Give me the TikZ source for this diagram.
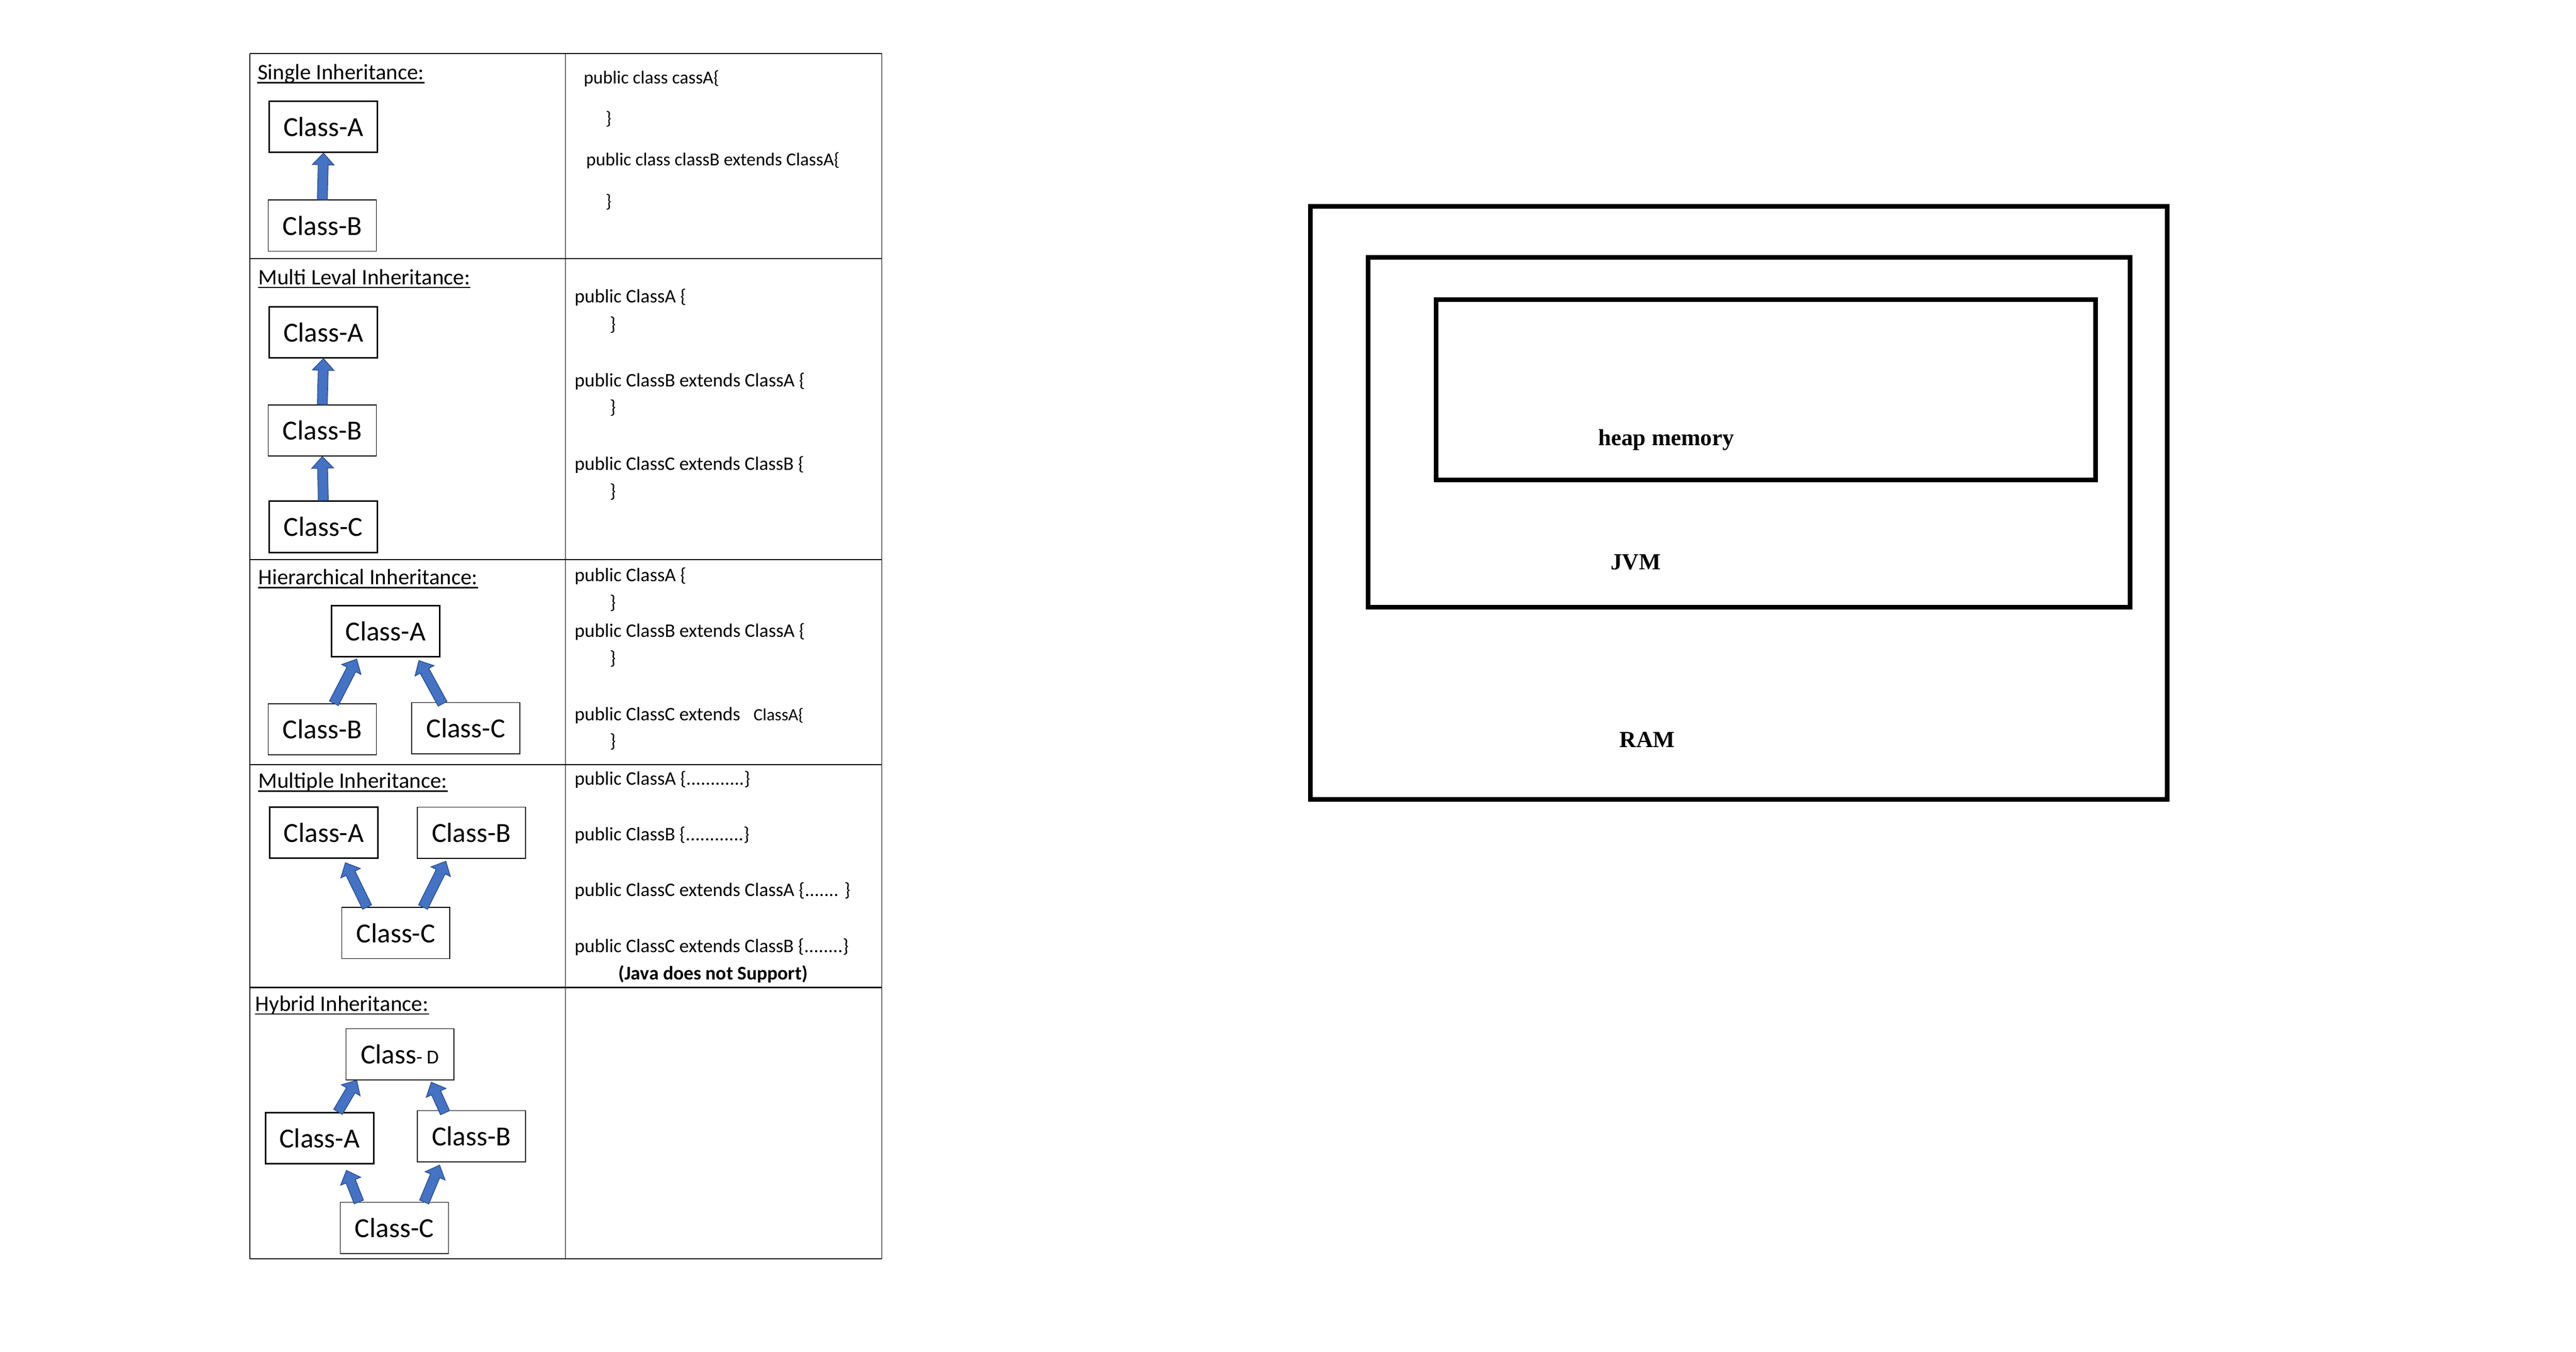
\documentclass[tikz,border=0pt]{standalone}
\usepackage{fontspec}
\setmainfont{Carlito}
\newfontfamily\memfont{Liberation Serif}
\usetikzlibrary{calc}
\definecolor{arrowblue}{HTML}{4472C4}
\definecolor{arrowedge}{HTML}{2F528F}

\newcommand{\blockarrow}[2]{%
  \coordinate (ba-t) at (#1);
  \coordinate (ba-p) at (#2);
  \coordinate (ba-h) at ($(ba-p)!7pt!(ba-t)$);
  \filldraw[inharrow] ($(ba-t)!3pt!90:(ba-p)$) -- ($(ba-h)!3pt!90:(ba-p)$)
    -- ($(ba-h)!6.5pt!90:(ba-p)$) -- (ba-p) -- ($(ba-h)!6.5pt!-90:(ba-p)$)
    -- ($(ba-h)!3pt!-90:(ba-p)$) -- ($(ba-t)!3pt!-90:(ba-p)$) -- cycle;
}

\begin{document}
\begin{tikzpicture}[x=1pt, y=-1pt,
    classbox/.style={draw, line width=0.5pt, minimum width=65.5pt, minimum height=31pt,
      inner sep=0pt, font=\fontsize{16.7}{20}\selectfont},
    classthick/.style={classbox, line width=0.9pt},
    title/.style={anchor=base west, inner sep=0pt, font=\fontsize{13.4}{16}\selectfont},
    uline/.style={line width=0.9pt},
    code/.style={anchor=base west, inner sep=0pt, font=\fontsize{11.6}{14}\selectfont},
    smallcode/.style={code, font=\fontsize{11.1}{14}\selectfont},
    inharrow/.style={fill=arrowblue, draw=arrowedge, line width=0.5pt},
    grid/.style={line width=0.45pt},
    rowline/.style={line width=0.75pt},
    membox/.style={line width=2.8pt},
    memlabel/.style={anchor=base, inner sep=0pt, font=\memfont\bfseries\fontsize{14}{16}\selectfont}]
    \useasboundingbox (0,0) rectangle (1560,818.4);

    % table
    \draw[grid] (151.3,32.5) -- (151.3,762.2);
    \draw[grid] (342.5,32.5) -- (342.5,762.2);
    \draw[grid] (534.0,32.5) -- (534.0,762.2);
    \draw[grid] (151.3,32.5) -- (534.0,32.5);
    \draw[rowline] (151.3,156.7) -- (534.0,156.7);
    \draw[rowline] (151.3,338.8) -- (534.0,338.8);
    \draw[rowline] (151.3,463.0) -- (534.0,463.0);
    \draw[rowline] (151.3,597.9) -- (534.0,597.9);
    \draw[rowline] (151.3,762.2) -- (534.0,762.2);

    % single
    \node[title] (tSingle) at (155.8,48.3) {Single Inheritance:};
    \draw[uline] ([yshift=-1.8pt]tSingle.base west) -- ([yshift=-1.8pt]tSingle.base east);
    \node[classthick] (sA) at (195.9,76.8) {Class-A};
    \node[classbox] (sB) at (195.2,136.6) {Class-B};
    \blockarrow{sB.north}{sA.south}
    \node[smallcode] (sc1) at (353.3,50.7) {public class cassA\{};
    \node[smallcode] (sc2) at (366.6,75.5) {\}};
    \node[smallcode] (sc3) at (354.8,100.4) {public class classB extends ClassA\{};
    \node[smallcode] (sc4) at (366.6,125.7) {\}};

    % multi level
    \node[title] (tMulti) at (156.3,172.3) {Multi Leval Inheritance:};
    \draw[uline] ([yshift=-1.8pt]tMulti.base west) -- ([yshift=-1.8pt]tMulti.base east);
    \node[classthick] (mA) at (195.9,201.2) {Class-A};
    \node[classbox] (mB) at (195.2,260.7) {Class-B};
    \node[classthick] (mC) at (195.8,319.0) {Class-C};
    \blockarrow{mB.north}{mA.south}
    \blockarrow{mC.north}{mB.south}
    \node[code] (mc1) at (347.8,183.4) {public ClassA \{};
    \node[code] (mc2) at (369.1,200.0) {\}};
    \node[code] (mc3) at (347.8,234.1) {public ClassB extends ClassA \{};
    \node[code] (mc4) at (369.1,250.5) {\}};
    \node[code] (mc5) at (347.8,284.8) {public ClassC extends ClassB \{};
    \node[code] (mc6) at (369.1,301.2) {\}};

    % hierarchical
    \node[title] (tHier) at (156.3,353.9) {Hierarchical Inheritance:};
    \draw[uline] ([yshift=-1.8pt]tHier.base west) -- ([yshift=-1.8pt]tHier.base east);
    \node[classthick] (hA) at (233.5,382.2) {Class-A};
    \node[classbox] (hB) at (195.2,441.6) {Class-B};
    \node[classbox] (hC) at (282.1,440.9) {Class-C};
    \blockarrow{[xshift=7pt]hB.north}{[xshift=-17.5pt,yshift=-1pt]hA.south}
    \blockarrow{[xshift=-14.1pt,yshift=-1pt]hC.north}{[xshift=20.2pt,yshift=-1.9pt]hA.south}
    \node[code] (hc1) at (347.8,352.2) {public ClassA \{};
    \node[code] (hc2) at (369.1,368.7) {\}};
    \node[code] (hc3) at (347.8,385.8) {public ClassB extends ClassA \{};
    \node[code] (hc4) at (369.1,402.2) {\}};
    \node[code] (hc5) at (347.8,436.3) {public ClassC extends\hspace{8pt}{\fontsize{10.4}{12}\selectfont ClassA\{}};
    \node[code] (hc6) at (369.1,452.7) {\}};

    % multiple
    \node[title] (tMultiple) at (156.3,477.2) {Multiple Inheritance:};
    \draw[uline] ([yshift=-1.8pt]tMultiple.base west) -- ([yshift=-1.8pt]tMultiple.base east);
    \node[classthick] (uA) at (196.1,504.2) {Class-A};
    \node[classbox] (uB) at (285.5,504.2) {Class-B};
    \node[classbox] (uC) at (239.7,565.0) {Class-C};
    \blockarrow{[xshift=-17.4pt]uC.north}{[xshift=13.1pt,yshift=-2.3pt]uA.south}
    \blockarrow{[xshift=16.5pt]uC.north}{[xshift=-15.5pt,yshift=-1.6pt]uB.south}
    \node[code] (uc1) at (347.8,475.4) {public ClassA \{............\}};
    \node[code] (uc2) at (347.8,509.0) {public ClassB \{............\}};
    \node[code] (uc3) at (347.8,542.7) {public ClassC extends ClassA \{....... \}};
    \node[code] (uc4) at (347.8,576.8) {public ClassC extends ClassB \{........\}};
    \node[code, anchor=base, font=\bfseries\fontsize{11.7}{14}\selectfont] (uc5) at (431.9,593.2) {(Java does not Support)};

    % hybrid
    \node[title] (tHybrid) at (154.5,612.2) {Hybrid Inheritance:};
    \draw[uline] ([yshift=-1.8pt]tHybrid.base west) -- ([yshift=-1.8pt]tHybrid.base east);
    \node[classbox] (yD) at (242.2,638.4) {Class{\fontsize{12}{14}\selectfont- D}};
    \node[classthick] (yA) at (193.5,689.2) {Class-A};
    \node[classbox] (yB) at (285.5,688.0) {Class-B};
    \node[classbox] (yC) at (238.8,743.6) {Class-C};
    \blockarrow{[xshift=11.2pt]yA.north}{[xshift=-26.2pt]yD.south}
    \blockarrow{[xshift=-16pt,yshift=-1.5pt]yB.north}{[xshift=19pt,yshift=-1.2pt]yD.south}
    \blockarrow{[xshift=-21.5pt]yC.north}{[xshift=16.3pt,yshift=-3.6pt]yA.south}
    \blockarrow{[xshift=18.1pt]yC.north}{[xshift=-19.3pt,yshift=-1.8pt]yB.south}

    % memory
    \draw[membox] (793.6,125.0) rectangle (1312.3,484.2);
    \draw[membox] (828.4,155.8) rectangle (1290.0,367.8);
    \draw[membox] (869.8,181.5) rectangle (1269.0,290.6);
    \node[memlabel] (heap) at (1009.0,269.8) {heap memory};
    \node[memlabel] (jvm) at (990.6,344.8) {JVM};
    \node[memlabel] (ram) at (997.6,452.5) {RAM};
\end{tikzpicture}
\end{document}
